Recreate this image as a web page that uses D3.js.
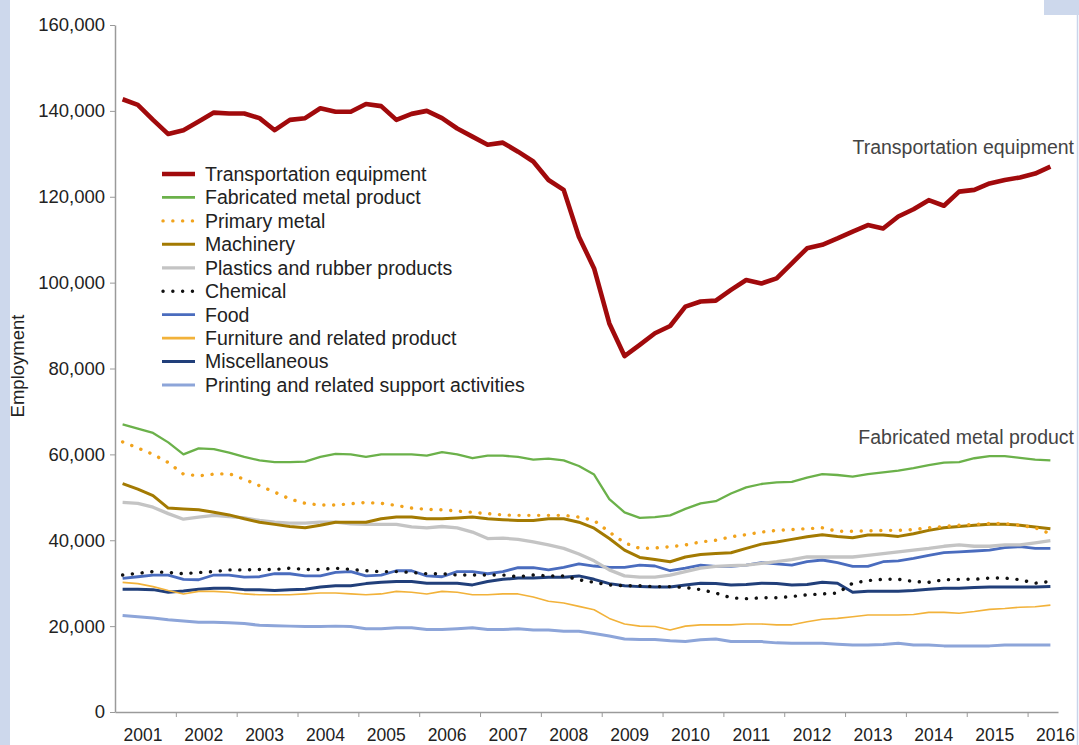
<!DOCTYPE html>
<html>
<head>
<meta charset="utf-8">
<script src="https://cdn.jsdelivr.net/npm/d3@7"></script>
<style>
  body { margin: 0; background: #fff; }
  svg { display: block; font-family: "Liberation Sans", Arial, sans-serif; }
</style>
</head>
<body>
<svg id="chart" width="1079" height="745"></svg>
<script>
// year labels on the x axis, data is quarterly from 2001 Q1 to 2016 Q2
var years = [2001, 2002, 2003, 2004, 2005, 2006, 2007, 2008, 2009, 2010, 2011, 2012, 2013, 2014, 2015, 2016];
var yTicks = [0, 20000, 40000, 60000, 80000, 100000, 120000, 140000, 160000];

var transportation = [142700, 141400, 137900, 134600, 135500, 137500, 139600, 139400, 139400, 138300, 135500, 137900, 138300, 140600, 139800, 139800,
  141600, 141100, 137900, 139300, 140000, 138300, 135900, 134000, 132100, 132600, 130500, 128200, 123900, 121600, 110700, 103300,
  90500, 82900, 85500, 88200, 89900, 94400, 95600, 95800, 98300, 100600, 99800, 101000, 104500, 108000, 108800, 110300,
  111900, 113400, 112600, 115400, 117100, 119200, 117900, 121200, 121600, 123100, 123900, 124500, 125400, 127000];
var fabricatedMetal = [67000, 66000, 65000, 62800, 60000, 61400, 61200, 60400, 59400, 58600, 58200, 58200, 58300, 59400, 60100, 60000,
  59400, 60000, 60000, 60000, 59700, 60500, 60000, 59100, 59700, 59700, 59400, 58800, 59000, 58600, 57300, 55300,
  49600, 46500, 45200, 45400, 45800, 47300, 48600, 49100, 50900, 52300, 53100, 53500, 53600, 54600, 55400, 55200,
  54800, 55400, 55800, 56200, 56800, 57500, 58100, 58200, 59100, 59600, 59600, 59200, 58800, 58600];
var primaryMetal = [62900, 61500, 60000, 58100, 55400, 55000, 55400, 55500, 54200, 52700, 51200, 49600, 48600, 48200, 48200, 48500,
  48800, 48600, 48100, 47500, 47200, 47100, 46800, 46500, 46200, 45900, 45800, 45800, 45800, 45800, 45400, 44600,
  41900, 39400, 38100, 38200, 38500, 38900, 39600, 40000, 40800, 41300, 41900, 42300, 42500, 42700, 42900, 42100,
  42100, 42200, 42300, 42300, 42500, 42900, 43200, 43500, 43700, 43900, 43900, 43500, 42900, 41500];
var machinery = [53200, 51900, 50400, 47500, 47300, 47100, 46500, 45900, 45000, 44200, 43700, 43200, 42900, 43500, 44200, 44200,
  44200, 45000, 45400, 45400, 45000, 45000, 45200, 45400, 45000, 44800, 44600, 44600, 45000, 45000, 44200, 42800,
  40400, 37700, 36000, 35500, 35000, 36100, 36700, 36900, 37100, 38100, 39100, 39600, 40200, 40800, 41300, 40900,
  40600, 41200, 41200, 40900, 41500, 42300, 42900, 43200, 43500, 43700, 43700, 43500, 43100, 42700];
var plastics = [48800, 48600, 47700, 46200, 44900, 45400, 45800, 45500, 45200, 44600, 44200, 44000, 44000, 44200, 44200, 43800,
  43700, 43700, 43700, 43100, 42900, 43200, 42900, 41900, 40400, 40500, 40200, 39600, 38900, 38100, 36800, 35200,
  33100, 31700, 31400, 31400, 31900, 32700, 33500, 33900, 34100, 34200, 34600, 35000, 35500, 36100, 36100, 36100,
  36100, 36500, 36900, 37300, 37700, 38100, 38600, 38900, 38600, 38600, 38900, 38900, 39400, 39900];
var chemical = [31900, 32300, 32700, 32500, 32200, 32500, 32700, 33100, 33100, 33200, 33200, 33500, 33200, 33200, 33500, 33200,
  32900, 32700, 32700, 32500, 32200, 32200, 31900, 31900, 31900, 31900, 31500, 31900, 31700, 31700, 30800, 30200,
  29600, 29400, 29400, 29200, 29200, 29000, 28500, 27700, 26600, 26400, 26600, 26600, 26900, 27300, 27500, 27700,
  30000, 30600, 30900, 30900, 30400, 30200, 30800, 30900, 30900, 31200, 31200, 30800, 30000, 30400];
var food = [31100, 31500, 31900, 31900, 30900, 30800, 31900, 31900, 31400, 31500, 32200, 32200, 31700, 31700, 32500, 32700,
  31700, 31900, 32900, 32900, 31700, 31500, 32700, 32700, 32200, 32700, 33600, 33600, 33100, 33700, 34500, 34000,
  33700, 33700, 34200, 34000, 32900, 33500, 34200, 33900, 33900, 34200, 34800, 34500, 34200, 35000, 35400, 34800,
  33900, 33900, 35000, 35200, 35800, 36500, 37100, 37300, 37500, 37700, 38300, 38500, 38100, 38100];
var furniture = [30200, 29900, 29200, 28300, 27500, 28100, 28100, 27900, 27500, 27300, 27300, 27300, 27500, 27700, 27700, 27500,
  27300, 27500, 28100, 27900, 27500, 28100, 27900, 27300, 27300, 27500, 27500, 26800, 25800, 25400, 24600, 23800,
  21800, 20500, 20000, 19900, 19100, 20000, 20300, 20300, 20300, 20500, 20500, 20300, 20300, 21000, 21600, 21800,
  22200, 22600, 22600, 22600, 22700, 23200, 23200, 23000, 23400, 23900, 24100, 24400, 24500, 24900];
var miscellaneous = [28600, 28600, 28500, 27900, 28200, 28600, 28800, 28800, 28500, 28500, 28300, 28500, 28600, 29100, 29400, 29400,
  29900, 30200, 30400, 30400, 30000, 30000, 30000, 29600, 30400, 30900, 31200, 31200, 31400, 31400, 31700, 30900,
  29900, 29400, 29200, 29100, 29100, 29600, 30000, 29900, 29600, 29700, 30000, 29900, 29600, 29700, 30200, 30000,
  27900, 28100, 28100, 28100, 28300, 28600, 28800, 28800, 29000, 29100, 29100, 29100, 29100, 29200];
var printing = [22500, 22200, 21900, 21500, 21200, 20900, 20900, 20800, 20600, 20200, 20100, 20000, 19900, 19900, 20000, 19900,
  19400, 19400, 19600, 19600, 19200, 19200, 19400, 19600, 19200, 19200, 19400, 19100, 19100, 18800, 18800, 18300,
  17700, 17000, 16900, 16900, 16600, 16400, 16800, 17000, 16400, 16400, 16400, 16100, 16000, 16000, 16000, 15800,
  15600, 15600, 15700, 16000, 15600, 15600, 15400, 15400, 15400, 15400, 15600, 15600, 15600, 15600];

var series = [
  {name: "Transportation equipment", values: transportation, color: "#a10a0c", width: 4.6},
  {name: "Fabricated metal product", values: fabricatedMetal, color: "#6bb14a", width: 2.3},
  {name: "Primary metal", values: primaryMetal, color: "#f1a31c", width: 3.4, dash: "0.1,9.7"},
  {name: "Machinery", values: machinery, color: "#a37a02", width: 3},
  {name: "Plastics and rubber products", values: plastics, color: "#c4c4c4", width: 3.3},
  {name: "Chemical", values: chemical, color: "#111111", width: 3.4, dash: "0.1,9.7"},
  {name: "Food", values: food, color: "#4a6cbe", width: 2.8},
  {name: "Furniture and related product", values: furniture, color: "#f2b23a", width: 1.6},
  {name: "Miscellaneous", values: miscellaneous, color: "#213f7a", width: 3},
  {name: "Printing and related support activities", values: printing, color: "#8da5d9", width: 3}
];

// quarter midpoints as fractional years
var quarters = [];
years.forEach(function(yr) {
  for (var q = 0; q < 4; q++) quarters.push(yr + (q + 0.5) / 4);
});
quarters = quarters.slice(0, transportation.length);

var svg = d3.select("#chart");
var W = +svg.attr("width"), H = +svg.attr("height");
var textCol = "#222";

// light blue frame bits
svg.append("rect").attr("x", 0).attr("y", 0).attr("width", 10).attr("height", H).attr("fill", "#cdd8ec");
svg.append("rect").attr("x", 1044).attr("y", 0).attr("width", W - 1044).attr("height", 15).attr("fill", "#cdd8ec");
svg.append("line").attr("x1", 1077.5).attr("x2", 1077.5).attr("y1", 15).attr("y2", H)
  .attr("stroke", "#c9d5eb").attr("stroke-width", 1.5);

var x = d3.scaleLinear().domain([2001, 2016.5]).range([115, 1058]);
var y = d3.scaleLinear().domain([0, 160000]).range([712, 25]);

// y axis
var gy = svg.append("g").attr("transform", "translate(115,0)")
  .call(d3.axisLeft(y).tickValues(yTicks).tickFormat(d3.format(",")).tickSize(5).tickSizeOuter(0).tickPadding(5));
gy.select(".domain").attr("stroke", "#9a9a9a").attr("stroke-width", 1.5);
gy.selectAll(".tick line").attr("stroke", "#9a9a9a");
gy.selectAll(".tick text").attr("fill", textCol).style("font-size", "18.5px")
  .style("font-family", "'Liberation Sans', Arial, sans-serif");

// x axis: ticks at year boundaries, labels centred in the year
var gx = svg.append("g").attr("transform", "translate(0,712)")
  .call(d3.axisBottom(x).tickValues(years.slice(1)).tickFormat("").tickSize(5).tickSizeOuter(0));
gx.select(".domain").attr("stroke", "#9a9a9a").attr("stroke-width", 1.5);
gx.selectAll(".tick line").attr("stroke", "#9a9a9a");

svg.append("g").selectAll("text").data(years).enter()
  .append("text")
  .attr("x", d => x(d + 0.5) - 2.5)
  .attr("y", 741)
  .attr("text-anchor", "middle")
  .attr("fill", textCol)
  .style("font-size", "17.5px")
  .text(d => d);

svg.append("text")
  .attr("transform", "translate(24,366) rotate(-90)")
  .attr("text-anchor", "middle")
  .attr("fill", textCol)
  .style("font-size", "18.5px")
  .text("Employment");

// lines, last series drawn first so transportation sits on top
var lnMkr = d3.line().x((d, i) => x(quarters[i])).y(d => y(d));

svg.append("g").selectAll("path").data(series.slice().reverse()).enter()
  .append("path")
  .attr("fill", "none")
  .attr("stroke", d => d.color)
  .attr("stroke-width", d => d.width)
  .attr("stroke-linejoin", "round")
  .attr("stroke-linecap", d => d.dash ? "round" : "butt")
  .attr("stroke-dasharray", d => d.dash || null)
  .attr("d", d => lnMkr(d.values));

// legend
var lg = svg.append("g");
var rows = lg.selectAll("g").data(series).enter()
  .append("g")
  .attr("transform", (d, i) => "translate(0," + (174 + i * 23.45) + ")");

rows.append("line")
  .attr("x1", d => d.dash ? 163 : 162).attr("x2", 195)
  .attr("stroke", d => d.color)
  .attr("stroke-width", d => d.dash ? d.width : Math.max(d.width, 2.8))
  .attr("stroke-linecap", d => d.dash ? "round" : "butt")
  .attr("stroke-dasharray", d => d.dash || null);

rows.append("text")
  .attr("x", 205).attr("dy", "0.35em")
  .attr("fill", textCol)
  .style("font-size", "19.5px")
  .text(d => d.name);

// end labels
svg.append("text").attr("x", 1074).attr("y", 154).attr("text-anchor", "end")
  .attr("fill", "#444").style("font-size", "19.5px").text("Transportation equipment");
svg.append("text").attr("x", 1074).attr("y", 444).attr("text-anchor", "end")
  .attr("fill", "#444").style("font-size", "19.5px").text("Fabricated metal product");
</script>
</body>
</html>
